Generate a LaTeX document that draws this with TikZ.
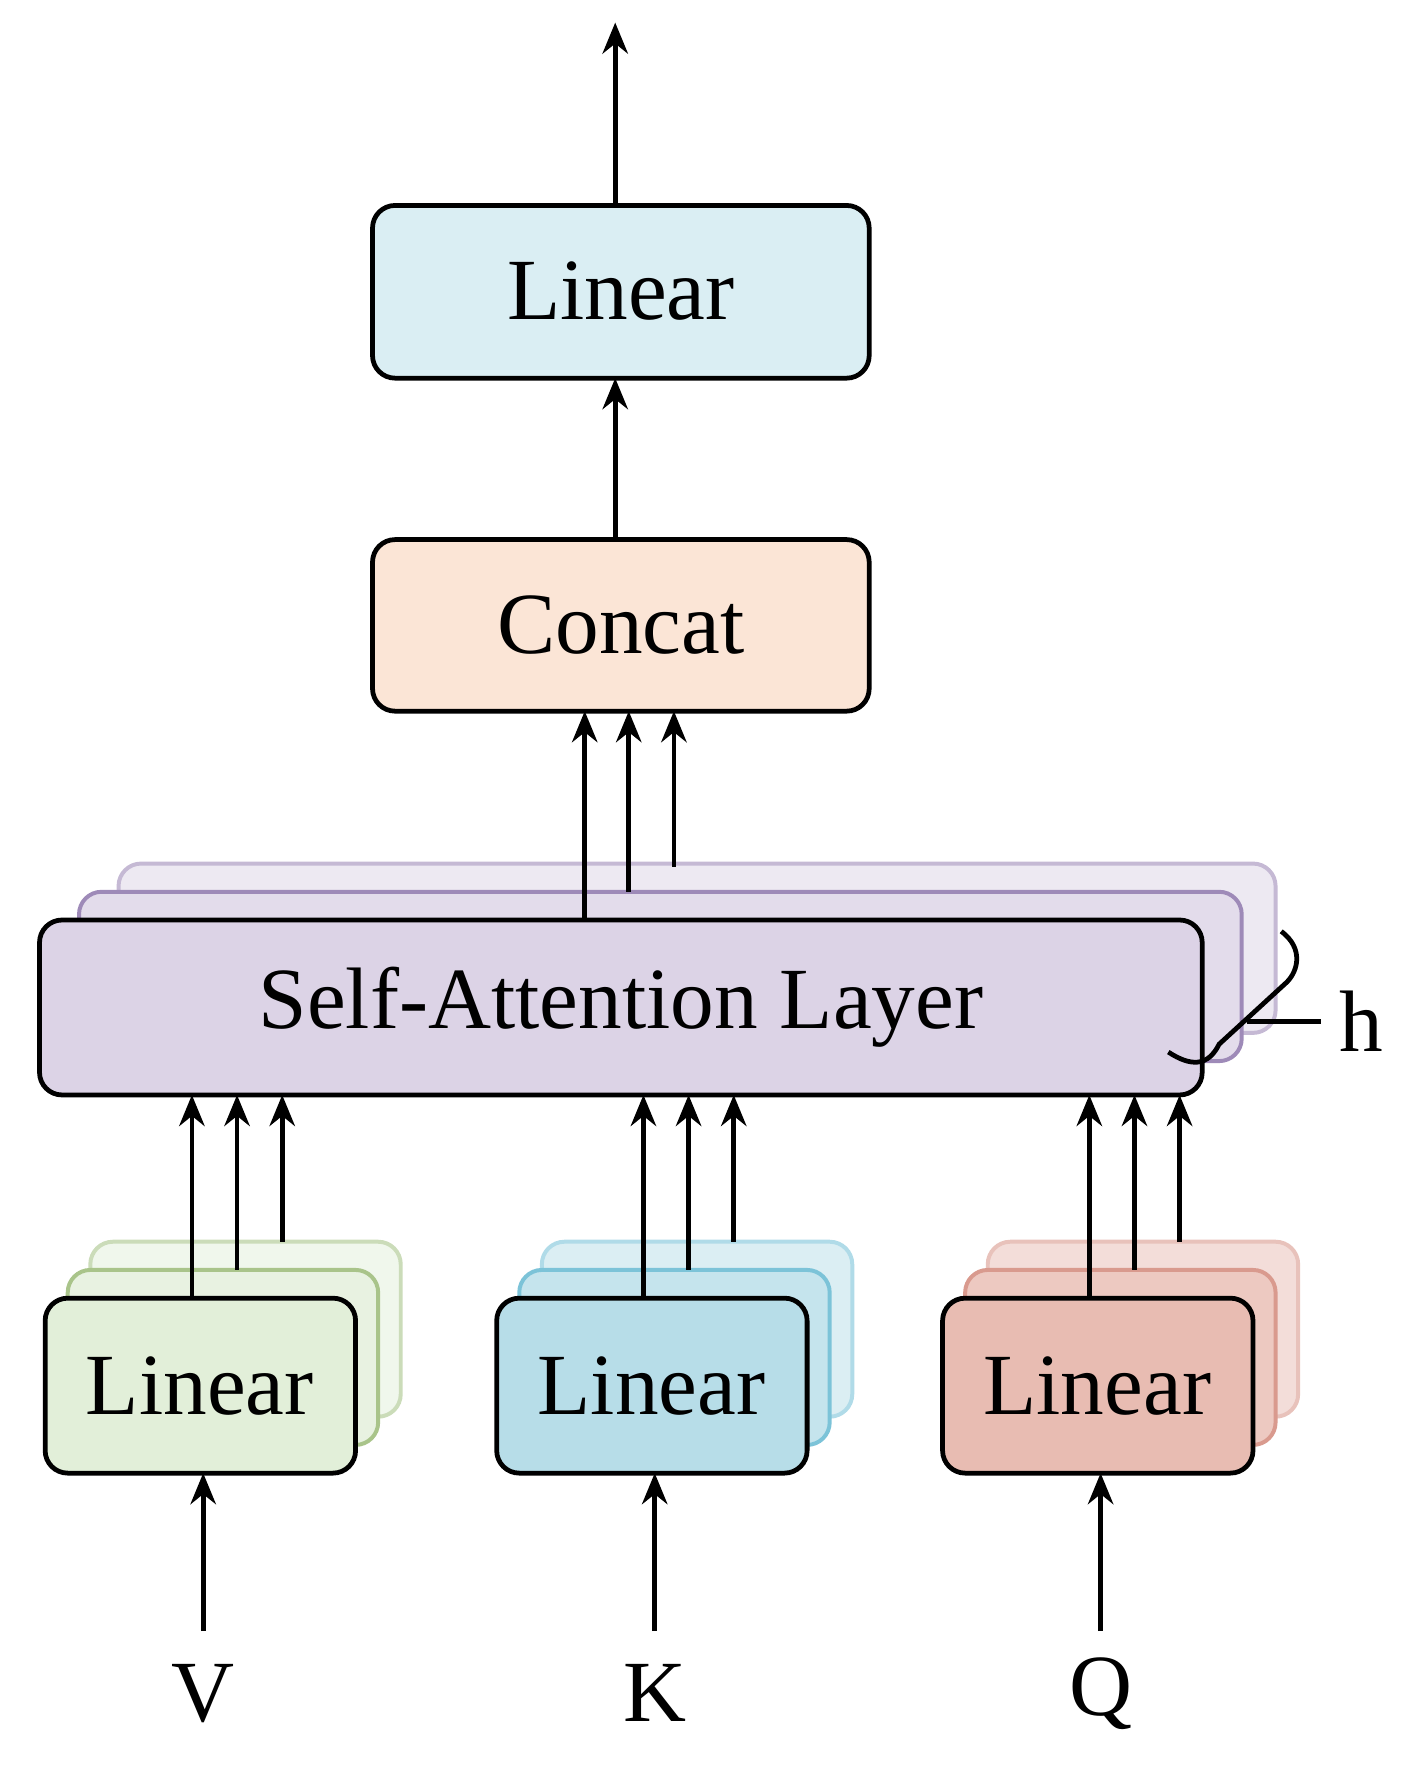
\documentclass[tikz,border=0pt]{standalone}
\usepackage{fontspec}
\setmainfont{Liberation Serif}
\usetikzlibrary{arrows.meta}
\definecolor{lblue}{HTML}{DAEEF3}
\definecolor{peach}{HTML}{FBE5D6}
\definecolor{lav}{HTML}{DCD3E6}
\definecolor{lavB}{HTML}{9E8AB8}
\definecolor{grn}{HTML}{E2EFD9}
\definecolor{grnB}{HTML}{A9C48A}
\definecolor{kbl}{HTML}{B7DDE8}
\definecolor{kblB}{HTML}{7CC3D8}
\definecolor{pnk}{HTML}{E8BCB2}
\definecolor{pnkB}{HTML}{D99A8E}
\begin{document}
\begin{tikzpicture}[x=0.02cm,y=-0.02cm,
 box/.style={draw=black,line width=2.4pt,rounded corners=0.4cm},
 bk/.style={line width=2pt,rounded corners=0.4cm},
 arr/.style={line width=2.4pt,-{Stealth[length=0.55cm,width=0.45cm]}},
 txt/.style={font=\fontsize{44}{50}\selectfont}]
\useasboundingbox (0,0) rectangle (1250,1568);
% top
\draw[box,fill=lblue] (330,182) rectangle (770,335);
\node[txt] (lin) at (550,258) {Linear};
\draw[box,fill=peach] (330,478) rectangle (770,630);
\node[txt] (cc) at (550,554) {Concat};
\coordinate (linT) at (545,182); \coordinate (out) at (545,20);
\coordinate (linB) at (545,335); \coordinate (ccT) at (545,478);
\draw[arr] (linT) -- (out);
\draw[arr] (ccT) -- (linB);
% SA layers
\draw[bk,draw=lavB!60,fill=lav!50] (105,765) rectangle (1130,915);
\draw[bk,draw=lavB,fill=lav!80] (70,790) rectangle (1100,940);
\draw[box,fill=lav] (35,815) rectangle (1065,970);
\node[txt] (sa) at (550,892) {Self-Attention Layer};
\foreach \x/\y in {518/815,557/790,597/768}{\coordinate (s) at (\x,\y);\coordinate (e) at (\x,630);\draw[arr] (s) -- (e);}
% brace h
\draw[line width=2.4pt] (1035,932) .. controls (1055,945) and (1070,945) .. (1080,925) -- (1140,870) .. controls (1150,860) and (1155,840) .. (1135,825);
\coordinate (hs) at (1105,905); \coordinate (he) at (1170,905);
\draw[line width=2.4pt] (hs) -- (he);
\node[txt,anchor=west] (h) at (1180,905) {h};
% stacks
\foreach \x/\f/\b/\n/\lab in {40/grn/grnB/v/V,440/kbl/kblB/k/K,835/pnk/pnkB/q/Q}{
 \draw[bk,draw=\b!60,fill=\f!50] (\x+40,1100) rectangle (\x+315,1255);
 \draw[bk,draw=\b,fill=\f!80] (\x+20,1125) rectangle (\x+295,1280);
 \draw[box,fill=\f] (\x,1150) rectangle (\x+275,1305);
 \node[txt] (l\n) at (\x+137,1228) {Linear};
 \foreach \dx/\y in {130/1150,170/1125,210/1100}{\coordinate (s) at (\x+\dx,\y);\coordinate (e) at (\x+\dx,970);\draw[arr] (s) -- (e);}
 \node[txt] (i\n) at (\x+140,1500) {\lab};
 \coordinate (a) at (\x+140,1445); \coordinate (b) at (\x+140,1305);
 \draw[arr] (a) -- (b);
}
\end{tikzpicture}
\end{document}
